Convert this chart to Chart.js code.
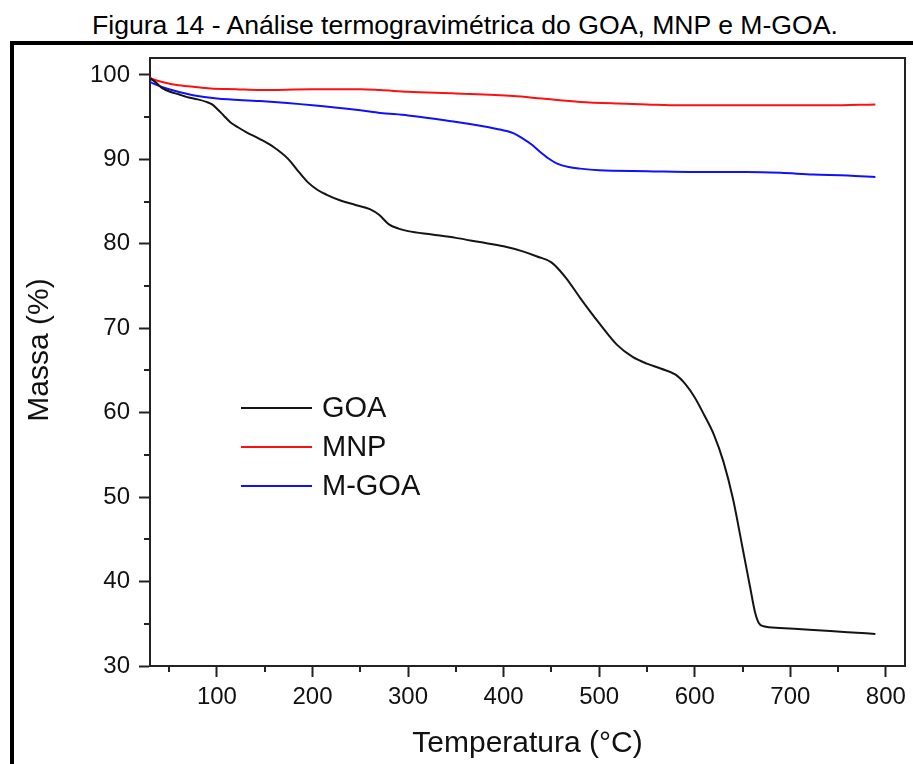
<!DOCTYPE html>
<html>
<head>
<meta charset="utf-8">
<title>TGA</title>
<script src="https://cdn.jsdelivr.net/npm/chart.js@4.4.0/dist/chart.umd.min.js"></script>
<style>
html, body { margin: 0; padding: 0; background: #fff; overflow: hidden; }
body { width: 913px; height: 764px; position: relative; font-family: "Liberation Sans", Arial, sans-serif; }
#caption { position: absolute; left: 92px; top: 12px; font-size: 26.6px; line-height: 26px; white-space: nowrap; color: #000; }
#frame { position: absolute; left: 10px; top: 41px; width: 1000px; height: 1000px; border: 4px solid #000; }
#wrap { position: absolute; left: 0; top: 0; width: 913px; height: 764px; }
</style>
</head>
<body>
<div id="caption">Figura 14 - Análise termogravimétrica do GOA, MNP e M-GOA.</div>
<div id="frame"></div>
<div id="wrap"><canvas id="tga" width="913" height="764"></canvas></div>
<script>
// values (temperature in °C, mass in %)
var seriesNames = ['GOA', 'MNP', 'M-GOA'];

var goaTemp = [30, 35, 42, 51, 60, 68, 80, 89, 95, 100, 107, 114, 122, 131, 145, 160, 175, 185, 195, 205, 215, 230, 245, 260, 270, 280, 290, 300, 325, 350, 375, 400, 420, 435, 450, 465, 480, 500, 519, 535, 550, 565, 580, 590, 600, 610, 620, 630, 640, 650, 658, 663, 667, 672, 689, 720, 760, 789];
var goaMass = [99.6, 99.2, 98.5, 98.0, 97.7, 97.4, 97.1, 96.8, 96.5, 96.0, 95.2, 94.4, 93.8, 93.2, 92.4, 91.4, 90.0, 88.6, 87.3, 86.4, 85.8, 85.1, 84.6, 84.1, 83.4, 82.3, 81.8, 81.5, 81.1, 80.7, 80.2, 79.7, 79.1, 78.5, 77.8, 76.0, 73.6, 70.6, 68.0, 66.6, 65.8, 65.2, 64.5, 63.4, 61.8, 59.7, 57.4, 54.2, 49.8, 44.0, 39.3, 36.4, 35.1, 34.7, 34.5, 34.3, 34.0, 33.8];

var mnpTemp = [30, 33, 45, 58, 75, 93, 120, 145, 200, 250, 271, 300, 350, 410, 440, 480, 520, 550, 584, 620, 689, 740, 789];
var mnpMass = [99.7, 99.5, 99.1, 98.8, 98.6, 98.4, 98.3, 98.2, 98.3, 98.3, 98.2, 98.0, 97.8, 97.5, 97.2, 96.8, 96.6, 96.5, 96.4, 96.4, 96.4, 96.4, 96.5];

var mgoaTemp = [30, 33, 50, 75, 100, 145, 200, 250, 271, 300, 340, 393, 410, 421, 430, 438, 447, 456, 468, 480, 500, 550, 600, 654, 690, 724, 760, 789];
var mgoaMass = [99.2, 99.0, 98.3, 97.6, 97.2, 96.9, 96.4, 95.8, 95.5, 95.2, 94.6, 93.6, 93.1, 92.4, 91.7, 90.9, 90.1, 89.5, 89.1, 88.9, 88.7, 88.6, 88.5, 88.5, 88.4, 88.2, 88.1, 87.9];

var xTickValues = [100, 200, 300, 400, 500, 600, 700, 800];
var yTickValues = [30, 40, 50, 60, 70, 80, 90, 100];
var xMinorTicks = [50, 150, 250, 350, 450, 550, 650, 750];
var yMinorTicks = [35, 45, 55, 65, 75, 85, 95];

var xTitle = 'Temperatura (°C)';
var yTitle = 'Massa (%)';

var lineColors = ['#141414', '#ff1010', '#1010ff'];
var axisColor = '#222';
var fontFamily = '"Liberation Sans", Arial, sans-serif';

function toPoints(temps, masses) {
  return temps.map(function (t, i) { return { x: t, y: masses[i] }; });
}

function fixedTicks(values) {
  return function (scale) {
    scale.ticks = values.map(function (v) { return { value: v }; });
  };
}

// short ticks between the labelled ones + top/right sides of the box + y title
var frameAndMinor = {
  id: 'frameAndMinor',
  afterDraw: function (chart) {
    var ctx = chart.ctx, a = chart.chartArea;
    var xs = chart.scales.x, ys = chart.scales.y;
    ctx.save();
    ctx.strokeStyle = axisColor;
    ctx.lineWidth = 2;
    ctx.beginPath();
    xMinorTicks.forEach(function (v) {
      var px = Math.round(xs.getPixelForValue(v));
      ctx.moveTo(px, a.bottom);
      ctx.lineTo(px, a.bottom + 6);
    });
    yMinorTicks.forEach(function (v) {
      var py = Math.round(ys.getPixelForValue(v));
      ctx.moveTo(a.left, py);
      ctx.lineTo(a.left - 6, py);
    });
    ctx.moveTo(a.left, a.top);
    ctx.lineTo(a.right, a.top);
    ctx.lineTo(a.right, a.bottom);
    ctx.stroke();

    // y title sits a bit above the middle of the axis in the original
    ctx.translate(40, (a.top + a.bottom) / 2 - 12);
    ctx.rotate(-Math.PI / 2);
    ctx.font = '30px ' + fontFamily;
    ctx.fillStyle = '#111';
    ctx.textAlign = 'center';
    ctx.textBaseline = 'middle';
    ctx.fillText(yTitle, 0, 0);
    ctx.restore();
  }
};

// legend drawn inside the plot like the original
var insideLegend = {
  id: 'insideLegend',
  afterDraw: function (chart) {
    var ctx = chart.ctx;
    var x0 = 241, y0 = 408, len = 71, row = 39;
    ctx.save();
    ctx.font = '29px ' + fontFamily;
    ctx.textBaseline = 'middle';
    chart.data.datasets.forEach(function (ds, i) {
      var y = y0 + i * row;
      ctx.strokeStyle = ds.borderColor;
      ctx.lineWidth = 2;
      ctx.beginPath();
      ctx.moveTo(x0, y);
      ctx.lineTo(x0 + len, y);
      ctx.stroke();
      ctx.fillStyle = '#111';
      ctx.fillText(ds.label, x0 + len + 10, y + 1);
    });
    ctx.restore();
  }
};

var ctx = document.getElementById('tga').getContext('2d');
var tgaChart = new Chart(ctx, {
  type: 'line',
  data: {
    datasets: [
      { label: seriesNames[0], data: toPoints(goaTemp, goaMass), borderColor: lineColors[0] },
      { label: seriesNames[1], data: toPoints(mnpTemp, mnpMass), borderColor: lineColors[1] },
      { label: seriesNames[2], data: toPoints(mgoaTemp, mgoaMass), borderColor: lineColors[2] }
    ]
  },
  options: {
    responsive: false,
    animation: false,
    devicePixelRatio: 1,
    layout: { padding: { top: 58, right: 8, left: 0, bottom: 0 } },
    elements: {
      line: { borderWidth: 2, fill: false, cubicInterpolationMode: 'monotone' },
      point: { radius: 0 }
    },
    plugins: { legend: { display: false }, tooltip: { enabled: false } },
    scales: {
      x: {
        type: 'linear',
        min: 30,
        max: 820,
        afterBuildTicks: fixedTicks(xTickValues),
        ticks: { autoSkip: false, maxRotation: 0, padding: 6, color: '#111', font: { family: fontFamily, size: 24 } },
        grid: { drawOnChartArea: false, tickLength: 11, tickWidth: 2, tickColor: axisColor },
        border: { color: axisColor, width: 2 },
        title: { display: true, text: xTitle, color: '#111', font: { family: fontFamily, size: 30 }, padding: { top: 0, bottom: 2 } },
        afterFit: function (scale) { scale.height = 98; }
      },
      y: {
        min: 30,
        max: 102,
        afterBuildTicks: fixedTicks(yTickValues),
        ticks: { autoSkip: false, padding: 9, color: '#111', font: { family: fontFamily, size: 24 } },
        grid: { drawOnChartArea: false, tickLength: 11, tickWidth: 2, tickColor: axisColor },
        border: { color: axisColor, width: 2 },
        title: { display: false },
        afterFit: function (scale) { scale.width = 150; }
      }
    }
  },
  plugins: [frameAndMinor, insideLegend]
});
</script>
</body>
</html>
